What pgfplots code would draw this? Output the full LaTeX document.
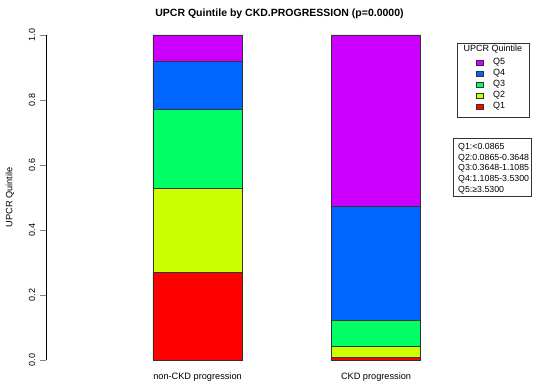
\documentclass[border=0pt]{standalone}
\usepackage{pgfplots}
\pgfplotsset{compat=1.18}
\usepackage{fontspec}
\setmainfont{Liberation Sans}
\definecolor{qone}{HTML}{FF0000}
\definecolor{qtwo}{HTML}{CCFF00}
\definecolor{qthree}{HTML}{00FF66}
\definecolor{qfour}{HTML}{0066FF}
\definecolor{qfive}{HTML}{CC00FF}
\definecolor{edge}{HTML}{333333}
\begin{document}
\begin{tikzpicture}
\path[use as bounding box] (0,0) rectangle (536pt,387pt);
\begin{axis}[
  at={(46pt,27pt)}, anchor=south west,
  scale only axis, width=400pt, height=325pt,
  xmin=-0.849, xmax=1.392, ymin=0, ymax=1,
  ybar stacked, bar width=0.5,
  axis lines*=left,
  x axis line style={draw=none},
  xtick={0,1}, xticklabels={non-CKD progression, CKD progression},
  xtick style={draw=none},
  xticklabel style={font=\fontsize{9.2}{11}\selectfont, yshift=-3pt},
  ytick={0,0.2,0.4,0.6,0.8,1.0},
  yticklabel={\pgfmathprintnumber[fixed,fixed zerofill,precision=1]{\tick}},
  yticklabel style={rotate=90, anchor=south, font=\fontsize{9}{11}\selectfont, inner sep=4.5pt},
  /pgf/number format/assume math mode=true,
  tick align=outside, major tick length=6pt,
  y axis line style={line width=0.6pt, -},
  ytick style={line width=0.6pt},
  clip=false,
  reverse legend,
  legend style={at={(1.0725,0.932)}, anchor=north west, draw=none, fill=none,
    font=\fontsize{9}{11}\selectfont, row sep=1pt, inner sep=0pt,
    nodes={inner sep=1pt, text height=6.5pt, text depth=1.5pt}},
  legend image code/.code={\draw[#1, draw=edge, line width=0.5pt] (1pt,-2.5pt) rectangle (8pt,2.5pt); \path[draw=none,fill=none] (0pt,0pt) rectangle (17pt,0.1pt);},
  legend cell align=left,
]
\addplot[fill=qone, draw=edge, line width=0.5pt] coordinates {(0,0.269) (1,0.008)};
\addlegendentry{Q1}
\addplot[fill=qtwo, draw=edge, line width=0.5pt] coordinates {(0,0.259) (1,0.035)};
\addlegendentry{Q2}
\addplot[fill=qthree, draw=edge, line width=0.5pt] coordinates {(0,0.244) (1,0.078)};
\addlegendentry{Q3}
\addplot[fill=qfour, draw=edge, line width=0.5pt] coordinates {(0,0.146) (1,0.351)};
\addlegendentry{Q4}
\addplot[fill=qfive, draw=edge, line width=0.5pt] coordinates {(0,0.082) (1,0.528)};
\addlegendentry{Q5}
\end{axis}
\node[font=\bfseries\fontsize{10.5}{12}\selectfont] at (279.5pt,373pt) {UPCR Quintile by CKD.PROGRESSION (p=0.0000)};
\node[rotate=90, font=\fontsize{9.2}{11}\selectfont] at (10pt,189.5pt) {UPCR Quintile};
\draw[edge, line width=0.6pt] (457pt,270pt) rectangle (529pt,344pt);
\node[font=\fontsize{9}{11}\selectfont] at (493pt,338pt) {UPCR Quintile};
\draw[edge, line width=0.6pt] (453pt,191pt) rectangle (531pt,249pt);
\node[anchor=north west, align=left, inner sep=0pt, font=\fontsize{8.8}{10.8}\selectfont] at (458pt,244pt) {Q1:<0.0865\\Q2:0.0865-0.3648\\Q3:0.3648-1.1085\\Q4:1.1085-3.5300\\Q5:≥3.5300};
\end{tikzpicture}
\end{document}
